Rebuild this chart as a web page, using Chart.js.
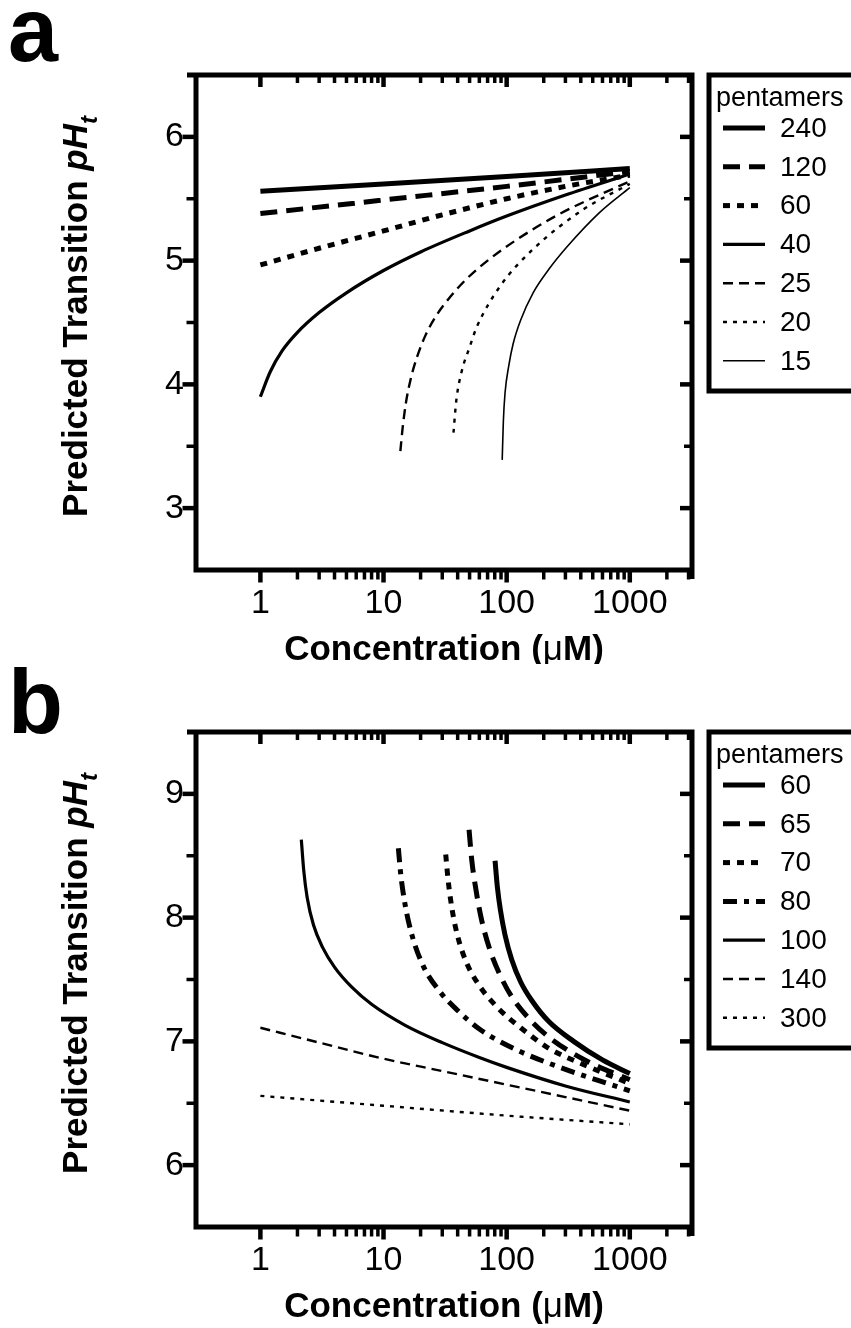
<!DOCTYPE html>
<html>
<head>
<meta charset="utf-8">
<title>Predicted transition pH</title>
<script src="https://cdn.jsdelivr.net/npm/chart.js@4.4.1/dist/chart.umd.min.js"></script>
<style>
  body { margin: 0; background: #fff; }
  #page { position: relative; width: 851px; height: 1328px; background: #fff; }
  #page canvas { position: absolute; left: 0; }
</style>
</head>
<body>
<div id="page">
  <canvas id="chartA" width="851" height="664" style="top:0px"></canvas>
  <canvas id="chartB" width="851" height="664" style="top:664px"></canvas>
</div>
<script>
// axis ticks (x is log concentration in uM)
var xMajor = [1, 10, 100, 1000];
var xMinor = [2, 3, 4, 5, 6, 7, 8, 9, 20, 30, 40, 50, 60, 70, 80, 90,
              200, 300, 400, 500, 600, 700, 800, 900, 2000, 3000];
var yMajorA = [3, 4, 5, 6];
var yMinorA = [3.5, 4.5, 5.5];
var yMajorB = [6, 7, 8, 9];
var yMinorB = [6.5, 7.5, 8.5];

// panel a : number of pentamers
var labelsA = ['240', '120', '60', '40', '25', '20', '15'];
var a240X = [1, 10, 100, 1000];
var a240Y = [5.56, 5.62, 5.68, 5.745];
var a120X = [1, 10, 100, 1000];
var a120Y = [5.38, 5.49, 5.60, 5.72];
var a60X = [1, 3, 10, 30, 100, 300, 1000];
var a60Y = [4.965, 5.10, 5.24, 5.37, 5.50, 5.60, 5.69];
var a40X = [1, 1.2, 1.5, 2, 3, 5, 10, 20, 50, 100, 300, 1000];
var a40Y = [3.90, 4.10, 4.27, 4.42, 4.58, 4.74, 4.92, 5.07, 5.24, 5.36, 5.53, 5.70];
var a25X = [13.7, 14.3, 15.2, 16.5, 18.7, 22, 27, 35, 47, 70, 121, 250, 415, 1000];
var a25Y = [3.46, 3.65, 3.85, 4.03, 4.22, 4.40, 4.56, 4.71, 4.85, 5.00, 5.17, 5.36, 5.47, 5.64];
var a20X = [37, 39, 43, 50, 57, 88, 163, 415, 1000];
var a20Y = [3.61, 3.87, 4.10, 4.30, 4.46, 4.79, 5.09, 5.41, 5.62];
var a15X = [92, 94, 97, 104, 113, 130, 164, 220, 308, 570, 1000];
var a15Y = [3.39, 3.70, 3.93, 4.15, 4.33, 4.52, 4.74, 4.93, 5.11, 5.39, 5.59];

// panel b : number of pentamers
var labelsB = ['60', '65', '70', '80', '100', '140', '300'];
var b60X = [80.5, 84, 89, 97, 110, 130, 160, 220, 350, 600, 1000];
var b60Y = [8.46, 8.25, 8.06, 7.86, 7.66, 7.48, 7.33, 7.16, 7.00, 6.85, 6.74];
var b65X = [49.5, 52, 56, 62, 72, 88, 110, 150, 230, 450, 1000];
var b65Y = [8.71, 8.47, 8.24, 8.00, 7.76, 7.54, 7.36, 7.19, 7.02, 6.84, 6.69];
var b70X = [32, 33.5, 36, 40, 47, 60, 85, 130, 215, 450, 1000];
var b70Y = [8.51, 8.30, 8.07, 7.85, 7.64, 7.45, 7.27, 7.11, 6.95, 6.80, 6.66];
var b80X = [13.2, 13.8, 15, 17, 21, 28.8, 40, 60, 121, 271, 1000];
var b80Y = [8.56, 8.35, 8.10, 7.86, 7.61, 7.40, 7.25, 7.10, 6.93, 6.79, 6.60];
var b100X = [2.15, 2.25, 2.4, 2.7, 3.2, 4, 5.5, 8, 15, 30, 60, 100, 300, 1000];
var b100Y = [8.63, 8.38, 8.16, 7.94, 7.76, 7.60, 7.44, 7.30, 7.13, 6.99, 6.87, 6.79, 6.64, 6.51];
var b140X = [1, 3, 10, 30, 100, 300, 1000];
var b140Y = [7.11, 6.99, 6.86, 6.76, 6.65, 6.55, 6.44];
var b300X = [1, 10, 100, 1000];
var b300Y = [6.56, 6.48, 6.40, 6.33];

// line looks: width + dash
var THICK = 5, MED = 3.2, THIN = 2.4, HAIR = 1.6;
var stylesA = [
    { w: THICK, dash: [] },
    { w: THICK, dash: [17, 9] },
    { w: THICK, dash: [7, 7] },
    { w: MED, dash: [] },
    { w: THIN, dash: [10, 6] },
    { w: THIN, dash: [4, 6] },
    { w: HAIR, dash: [] }
];
var stylesB = [
    { w: THICK, dash: [] },
    { w: THICK, dash: [17, 9] },
    { w: THICK, dash: [7, 7] },
    { w: THICK, dash: [14, 7, 5, 7] },
    { w: MED, dash: [] },
    { w: THIN, dash: [10, 6] },
    { w: THIN, dash: [4, 6] }
];

var FAMILY = '"Liberation Sans", Arial, Helvetica, sans-serif';

function makeSet(label, xs, ys, st) {
    return {
        label: label,
        data: xs.map(function(x, i) { return { x: x, y: ys[i] }; }),
        borderColor: '#000',
        borderWidth: st.w,
        borderDash: st.dash,
        borderCapStyle: 'butt',
        pointRadius: 0,
        fill: false,
        cubicInterpolationMode: 'monotone'
    };
}

function runsWidth(ctx, runs) {
    var w = 0;
    runs.forEach(function(r) { ctx.font = r.font; w += ctx.measureText(r.text).width; });
    return w;
}
function drawRuns(ctx, runs, x0, y0) {
    var x = x0;
    runs.forEach(function(r) {
        ctx.font = r.font;
        ctx.fillText(r.text, x, y0 + (r.dy || 0));
        x += ctx.measureText(r.text).width;
    });
}

// frame, mirrored ticks, titles, legend box, panel letter
var decor = {
    id: 'decor',
    afterDraw: function(chart, args, opts) {
        var ctx = chart.ctx, ca = chart.chartArea;
        var xs = chart.scales.x, ys = chart.scales.y;
        ctx.save();
        ctx.strokeStyle = '#000';
        ctx.fillStyle = '#000';
        ctx.lineCap = 'butt';
        ctx.lineJoin = 'miter';
        ctx.setLineDash([]);

        ctx.lineWidth = 5;
        ctx.beginPath();
        ctx.moveTo(ca.left, ca.top);
        ctx.lineTo(ca.left, ca.bottom);
        ctx.lineTo(ca.right, ca.bottom);
        ctx.moveTo(ca.left - 9, ca.top);
        ctx.lineTo(ca.right, ca.top);
        ctx.lineTo(ca.right, ca.bottom + 9);
        ctx.stroke();

        function seg(x1, y1, x2, y2, w) {
            ctx.lineWidth = w;
            ctx.beginPath();
            ctx.moveTo(x1, y1);
            ctx.lineTo(x2, y2);
            ctx.stroke();
        }
        xMajor.forEach(function(v) {
            var p = xs.getPixelForValue(v);
            seg(p, ca.bottom, p, ca.bottom + 12.5, 4.5);
            seg(p, ca.top, p, ca.top + 12, 4.5);
        });
        xMinor.forEach(function(v) {
            var p = xs.getPixelForValue(v);
            if (p > ca.right - 3) return;
            seg(p, ca.bottom, p, ca.bottom + 9.5, 3.5);
            seg(p, ca.top, p, ca.top + 8, 3.5);
        });
        opts.yMajor.forEach(function(v) {
            var p = ys.getPixelForValue(v);
            seg(ca.left, p, ca.left - 13.5, p, 4.5);
            seg(ca.right, p, ca.right - 12, p, 4.5);
        });
        opts.yMinor.forEach(function(v) {
            var p = ys.getPixelForValue(v);
            seg(ca.left, p, ca.left - 9.5, p, 3.5);
            seg(ca.right, p, ca.right - 8, p, 3.5);
        });

        // panel letter
        ctx.font = 'bold 90px ' + FAMILY;
        ctx.textAlign = 'left';
        ctx.textBaseline = 'alphabetic';
        ctx.fillText(opts.letter, 8, opts.letterBase);

        // x title
        var xRuns = [
            { text: 'Concentration (', font: 'bold 35px ' + FAMILY },
            { text: '\u03bc', font: '35px ' + FAMILY },
            { text: 'M)', font: 'bold 35px ' + FAMILY }
        ];
        var cx = (ca.left + ca.right) / 2;
        drawRuns(ctx, xRuns, cx - runsWidth(ctx, xRuns) / 2, ca.bottom + 90);

        // y title, rotated
        var yRuns = [
            { text: 'Predicted Transition ', font: 'bold 35px ' + FAMILY },
            { text: 'pH', font: 'italic bold 35px ' + FAMILY },
            { text: 't', font: 'italic bold 24px ' + FAMILY, dy: 10 }
        ];
        ctx.save();
        ctx.translate(87, (ca.top + ca.bottom) / 2 - 6);
        ctx.rotate(-Math.PI / 2);
        drawRuns(ctx, yRuns, -runsWidth(ctx, yRuns) / 2, 0);
        ctx.restore();

        // legend box
        var lx = 709, top = ca.top;
        ctx.lineWidth = 5;
        ctx.strokeRect(lx, top, 200, 316);
        ctx.font = '27px ' + FAMILY;
        ctx.textBaseline = 'alphabetic';
        ctx.fillText('pentamers', 716, top + 31);
        ctx.font = '28px ' + FAMILY;
        ctx.textBaseline = 'middle';
        chart.data.datasets.forEach(function(ds, i) {
            var ry = top + 53 + i * 38.8;
            ctx.lineWidth = ds.borderWidth;
            ctx.setLineDash(ds.borderDash);
            ctx.beginPath();
            ctx.moveTo(723, ry);
            ctx.lineTo(765, ry);
            ctx.stroke();
            ctx.setLineDash([]);
            ctx.fillText(ds.label, 780, ry + 1);
        });
        ctx.restore();
    }
};

var tickFont = { family: FAMILY, size: 34 };

function makeChart(id, sets, cfg) {
    return new Chart(document.getElementById(id), {
        type: 'line',
        data: { datasets: sets },
        options: {
            responsive: false,
            animation: false,
            devicePixelRatio: 1,
            layout: { padding: { top: cfg.top, right: 159, bottom: 0, left: 0 } },
            plugins: {
                legend: { display: false },
                tooltip: { enabled: false },
                decor: cfg.decor
            },
            scales: {
                x: {
                    type: 'logarithmic',
                    min: 0.3,
                    max: 3200,
                    grid: { display: false, drawTicks: false },
                    border: { display: false },
                    afterBuildTicks: function(s) {
                        s.ticks = xMajor.map(function(v) { return { value: v }; });
                    },
                    afterFit: function(s) { s.height = cfg.xHeight; },
                    ticks: {
                        autoSkip: false,
                        maxRotation: 0,
                        padding: 13,
                        color: '#000',
                        font: tickFont,
                        callback: function(v) { return String(v); }
                    }
                },
                y: {
                    type: 'linear',
                    min: cfg.yMin,
                    max: cfg.yMax,
                    grid: { display: false, drawTicks: false },
                    border: { display: false },
                    afterBuildTicks: function(s) {
                        s.ticks = cfg.decor.yMajor.map(function(v) { return { value: v }; });
                    },
                    afterFit: function(s) { s.width = 196; },
                    ticks: {
                        padding: 12,
                        color: '#000',
                        font: tickFont,
                        callback: function(v) { return String(v); }
                    }
                }
            }
        },
        plugins: [decor]
    });
}

var setsA = [
    makeSet(labelsA[0], a240X, a240Y, stylesA[0]),
    makeSet(labelsA[1], a120X, a120Y, stylesA[1]),
    makeSet(labelsA[2], a60X, a60Y, stylesA[2]),
    makeSet(labelsA[3], a40X, a40Y, stylesA[3]),
    makeSet(labelsA[4], a25X, a25Y, stylesA[4]),
    makeSet(labelsA[5], a20X, a20Y, stylesA[5]),
    makeSet(labelsA[6], a15X, a15Y, stylesA[6])
];
var setsB = [
    makeSet(labelsB[0], b60X, b60Y, stylesB[0]),
    makeSet(labelsB[1], b65X, b65Y, stylesB[1]),
    makeSet(labelsB[2], b70X, b70Y, stylesB[2]),
    makeSet(labelsB[3], b80X, b80Y, stylesB[3]),
    makeSet(labelsB[4], b100X, b100Y, stylesB[4]),
    makeSet(labelsB[5], b140X, b140Y, stylesB[5]),
    makeSet(labelsB[6], b300X, b300Y, stylesB[6])
];

makeChart('chartA', setsA, {
    top: 75, xHeight: 94, yMin: 2.5, yMax: 6.5,
    decor: { letter: 'a', letterBase: 61, yMajor: yMajorA, yMinor: yMinorA }
});
makeChart('chartB', setsB, {
    top: 68, xHeight: 101, yMin: 5.5, yMax: 9.5,
    decor: { letter: 'b', letterBase: 69, yMajor: yMajorB, yMinor: yMinorB }
});
</script>
</body>
</html>
